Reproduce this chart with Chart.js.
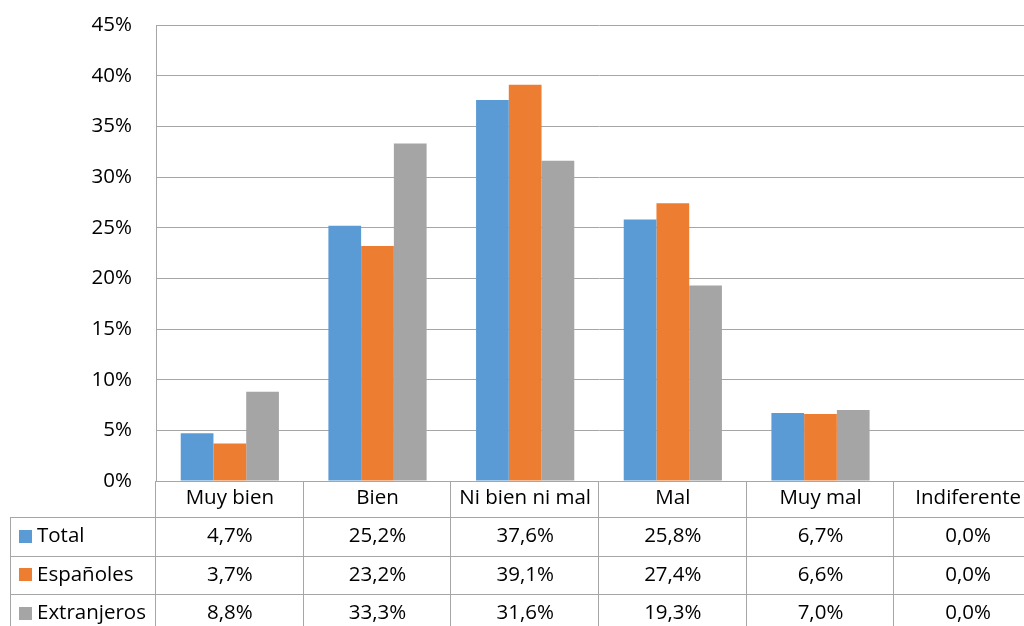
<!DOCTYPE html>
<html>
<head>
<meta charset="utf-8">
<script src="https://cdn.jsdelivr.net/npm/chart.js@4"></script>
<style>
html,body{margin:0;padding:0;background:#fff;overflow:hidden;width:1024px;height:626px;}
#wrap{position:absolute;left:0;top:0;width:1042px;height:626px;}
</style>
</head>
<body>
<div id="wrap"><canvas id="c" width="1042" height="626"></canvas></div>
<script>
const categories = ["Muy bien", "Bien", "Ni bien ni mal", "Mal", "Muy mal", "Indiferente"];
const seriesNames = ["Total", "Españoles", "Extranjeros"];
const totalValues = [4.7, 25.2, 37.6, 25.8, 6.7, 0.0];
const espanolesValues = [3.7, 23.2, 39.1, 27.4, 6.6, 0.0];
const extranjerosValues = [8.8, 33.3, 31.6, 19.3, 7.0, 0.0];
const seriesColors = ["#5B9BD5", "#ED7D31", "#A5A5A5"];
const yTicks = [0, 5, 10, 15, 20, 25, 30, 35, 40, 45];

const FONT = "'Open Sans', sans-serif";
const FSIZE = 20.5;
const LINE = "#a6a6a6";
const allValues = [totalValues, espanolesValues, extranjerosValues];

function fmt(v) { return v.toFixed(1).replace(".", ",") + "%"; }

const tablePlugin = {
  id: "dataTable",
  afterDraw(chart) {
    const ctx = chart.ctx;
    const xs = chart.scales.x;
    const area = chart.chartArea;
    const n = categories.length;
    const colW = (area.right - area.left) / n;
    const rowTop = 517;
    const rowH = 38.5;
    const tableLeft = 10;
    const bottom = chart.height;
    ctx.save();
    ctx.strokeStyle = LINE;
    ctx.lineWidth = 1;
    ctx.beginPath();
    for (let i = 0; i <= n; i++) {
      const x = Math.round(area.left + i * colW) - 0.5;
      ctx.moveTo(x, area.bottom);
      ctx.lineTo(x, bottom);
    }
    ctx.moveTo(tableLeft + 0.5, rowTop);
    ctx.lineTo(tableLeft + 0.5, bottom);
    for (let r = 0; r < 3; r++) {
      const y = Math.round(rowTop + r * rowH) + 0.5;
      ctx.moveTo(tableLeft, y);
      ctx.lineTo(chart.width, y);
    }
    ctx.stroke();

    ctx.font = FSIZE + "px " + FONT;
    ctx.textBaseline = "middle";
    for (let r = 0; r < 3; r++) {
      const yc = rowTop + r * rowH + rowH / 2;
      ctx.fillStyle = seriesColors[r];
      ctx.fillRect(19, Math.round(yc - 6.5), 13, 13);
      ctx.fillStyle = "#000";
      ctx.textAlign = "left";
      ctx.fillText(seriesNames[r], 37, yc);
      ctx.textAlign = "center";
      for (let i = 0; i < n; i++) {
        const xc = xs.getPixelForValue(i);
        ctx.fillText(fmt(allValues[r][i]), xc, yc);
      }
    }
    ctx.restore();
  }
};

new Chart(document.getElementById("c"), {
  type: "bar",
  data: {
    labels: categories,
    datasets: seriesNames.map((name, k) => ({
      label: name,
      data: allValues[k],
      backgroundColor: seriesColors[k],
      borderWidth: 0,
      barPercentage: 1.0,
      categoryPercentage: 0.665
    }))
  },
  options: {
    responsive: false,
    animation: false,
    devicePixelRatio: 1,
    layout: { padding: { top: 25, left: 0, right: 0, bottom: 0 } },
    plugins: {
      legend: { display: false },
      tooltip: { enabled: false }
    },
    scales: {
      x: {
        offset: true,
        grid: { display: false, drawTicks: false },
        border: { display: false },
        ticks: {
          color: "#000",
          font: { family: FONT, size: FSIZE },
          padding: 5,
          maxRotation: 0,
          autoSkip: false
        },
        afterFit(scale) {
          scale.height = 145;
          scale.paddingLeft = 0; scale.paddingRight = 0;
        }
      },
      y: {
        min: 0,
        max: 45,
        afterBuildTicks(scale) { scale.ticks = yTicks.map(v => ({ value: v })); },
        grid: { color: LINE, lineWidth: 1, drawTicks: false },
        border: { display: true, color: LINE, width: 1 },
        ticks: {
          color: "#000",
          font: { family: FONT, size: FSIZE },
          padding: 24,
          callback: v => v + "%"
        },
        afterFit(scale) {
          scale.width = 156;
          scale.paddingTop = 0; scale.paddingBottom = 0;
        }
      }
    }
  },
  plugins: [tablePlugin]
});
</script>
</body>
</html>
